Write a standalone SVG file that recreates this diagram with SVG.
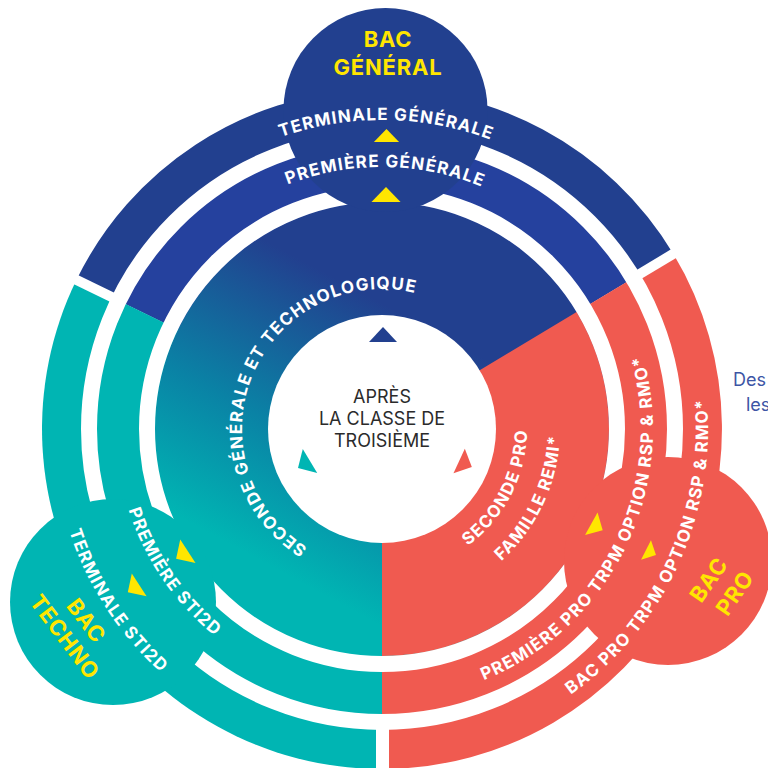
<svg xmlns="http://www.w3.org/2000/svg" xmlns:xlink="http://www.w3.org/1999/xlink" width="768" height="768" viewBox="0 0 768 768">
<style>
.arc{font-family:Inter,"Open Sans","DejaVu Sans",sans-serif;font-weight:700;fill:#fff;font-size:17px;letter-spacing:1.2px}
.bac{font-family:Inter,"Open Sans","DejaVu Sans",sans-serif;font-weight:700;fill:#ffe600;font-size:22px;letter-spacing:0.8px;text-anchor:middle}
.ctr{font-family:Inter,"Open Sans","DejaVu Sans",sans-serif;font-weight:400;fill:#2b2b2b;font-size:18px;text-anchor:middle}
.gap{fill:none;stroke:#fff}
.sep{stroke:#fff;fill:none}
</style>
<defs>
<linearGradient id="gSec" gradientUnits="userSpaceOnUse" x1="185" y1="520" x2="320" y2="270">
<stop offset="0" stop-color="#00b5b3"/>
<stop offset="0.45" stop-color="#0a82a5"/>
<stop offset="1" stop-color="#22408f"/>
</linearGradient>
<path id="tri" d="M0,-7 L14,7 L-14,7 Z"/>
<path id="cw309" d="M74.18,402.07 A309,309 0 0 1 689.82,402.07"/>
<path id="cw262" d="M121.00,406.16 A262,262 0 0 1 643.00,406.16"/>
<path id="cw140" d="M242.53,416.80 A140,140 0 0 1 521.47,416.80"/>
<path id="cc266" d="M117.01,452.18 A266,266 0 0 0 646.99,452.18"/>
<path id="cc329" d="M54.25,457.68 A329,329 0 0 0 709.75,457.68"/>
<path id="cc145" d="M237.55,441.64 A145,145 0 0 0 526.45,441.64"/>
<path id="cc178" d="M204.68,444.51 A178,178 0 0 0 559.32,444.51"/>
<path id="cc271" d="M112.03,452.62 A271,271 0 0 0 651.97,452.62"/>
<path id="cc326" d="M57.24,457.41 A326,326 0 0 0 706.76,457.41"/>
</defs>

<g id="bands">
<path id="band-general" fill="#22408f" d="M382,429 L76.4,280.0 A340,340 0 0 1 673.4,253.9 Z"/>
<path id="band-general-premiere" fill="#25419e" d="M382,429 L119.6,301.0 A292,292 0 0 1 632.3,278.6 Z"/>
<path id="band-pro" fill="#f05a50" d="M382,429 L673.4,253.9 A340,340 0 0 1 382,769 Z"/>
<path id="band-techno" fill="#00b5b3" d="M382,429 L382,769 A340,340 0 0 1 76.4,280.0 Z"/>
</g>

<g id="seconde">
<circle cx="382" cy="429" r="227" fill="url(#gSec)"/>
<path fill="#f05a50" d="M382,429 L576.6,312.1 A227,227 0 0 1 382,656 Z"/>
<circle id="centre" cx="382" cy="429" r="114" fill="#fff"/>
</g>

<g id="gaps">
<circle class="gap" cx="382" cy="429" r="235" stroke-width="16"/>
<circle class="gap" cx="382" cy="429" r="293" stroke-width="16"/>
<line class="sep" x1="125" y1="303.6" x2="71" y2="277.3" stroke-width="10"/>
<line class="sep" x1="382.5" y1="714" x2="382.5" y2="770" stroke-width="13"/>
<line class="sep" x1="628" y1="281" x2="679" y2="250.4" stroke-width="10"/>
</g>

<g id="bac-general">
<circle cx="385.5" cy="110" r="102" fill="#22408f"/>
<text class="bac" x="388" y="47">BAC</text>
<text class="bac" x="388" y="75">GÉNÉRAL</text>
</g>
<g id="bac-techno">
<circle cx="113" cy="602" r="103" fill="#00b5b3"/>
<g transform="translate(75.3,629) rotate(53)">
<text class="bac" x="0" y="-6">BAC</text>
<text class="bac" x="0" y="21">TECHNO</text>
</g>
</g>
<g id="bac-pro">
<circle cx="668" cy="561" r="104" fill="#f05a50"/>
<g transform="translate(722,586.5) rotate(-55)">
<text class="bac" x="-2" y="-7">BAC</text>
<text class="bac" x="2" y="22">PRO</text>
</g>
</g>

<g id="labels">
<text class="arc" transform="rotate(0.8 382 429)"><textPath href="#cw309" startOffset="50%" text-anchor="middle">TERMINALE GÉNÉRALE</textPath></text>
<text class="arc" transform="rotate(0.7 382 429)"><textPath href="#cw262" startOffset="50%" text-anchor="middle">PREMIÈRE GÉNÉRALE</textPath></text>
<text class="arc" transform="rotate(-67 382 429)"><textPath href="#cw140" startOffset="50%" text-anchor="middle">SECONDE GÉNÉRALE ET TECHNOLOGIQUE</textPath></text>
<text class="arc" transform="rotate(55.5 382 429)"><textPath href="#cc266" startOffset="50%" text-anchor="middle">PREMIÈRE STI2D</textPath></text>
<text class="arc" transform="rotate(57 382 429)"><textPath href="#cc329" startOffset="50%" text-anchor="middle">TERMINALE STI2D</textPath></text>
<text class="arc" transform="rotate(-63 382 429)"><textPath href="#cc145" startOffset="50%" text-anchor="middle">SECONDE PRO</textPath></text>
<text class="arc" transform="rotate(-65 382 429)"><textPath href="#cc178" startOffset="50%" text-anchor="middle">FAMILLE REMI*</textPath></text>
<text class="arc" transform="rotate(-64 382 429)"><textPath href="#cc271" startOffset="50%" text-anchor="middle">PREMIÈRE PRO TRPM OPTION RSP &amp; RMO*</textPath></text>
<text class="arc" transform="rotate(-65.4 382 429)"><textPath href="#cc326" startOffset="50%" text-anchor="middle">BAC PRO TRPM OPTION RSP &amp; RMO*</textPath></text>
<text class="ctr" x="382" y="403">APRÈS</text>
<text class="ctr" x="382" y="425">LA CLASSE DE</text>
<text class="ctr" x="382" y="447">TROISIÈME</text>
<text font-family="Inter,'Open Sans',sans-serif" font-size="18" fill="#3d55a5" x="733" y="386">Des</text>
<text font-family="Inter,'Open Sans',sans-serif" font-size="18" fill="#3d55a5" x="746" y="411">les</text>
</g>

<g id="arrows">
<use href="#tri" fill="#22408f" transform="translate(383,334.5) scale(1,1.07)"/>
<use href="#tri" fill="#00b5b3" transform="translate(304,464.5) rotate(-121)"/>
<use href="#tri" fill="#f05a50" transform="translate(465.5,464) rotate(115) scale(0.96,1)"/>
<use href="#tri" fill="#ffe600" transform="translate(386.5,135.5) scale(0.9,0.93)"/>
<use href="#tri" fill="#ffe600" transform="translate(386,194.5) scale(1.04,1.07)"/>
<use href="#tri" fill="#ffe600" transform="translate(182,555) rotate(-123)"/>
<use href="#tri" fill="#ffe600" transform="translate(133.5,588.5) rotate(-123) scale(0.97,0.97)"/>
<use href="#tri" fill="#ffe600" transform="translate(597,527) rotate(119) scale(0.92,0.93)"/>
<use href="#tri" fill="#ffe600" transform="translate(651,552.5) rotate(117) scale(0.78,0.8)"/>
</g>
</svg>
